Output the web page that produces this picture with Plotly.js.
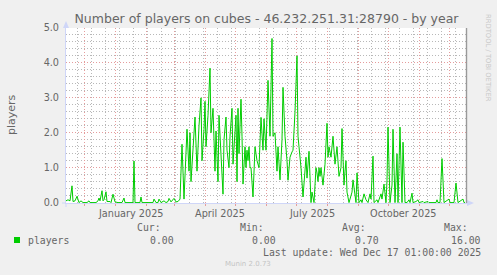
<!DOCTYPE html>
<html>
<head>
<meta charset="utf-8">
<script src="https://cdn.plot.ly/plotly-3.0.1.min.js"></script>
<style>
  html, body { margin: 0; padding: 0; background: #F0F0F0; }
  #chart { width: 497px; height: 275px; }
</style>
</head>
<body>
<div id="chart"></div>
<script>
// ---- data (days relative to 1 Jan 2025, daily average players) ----
const dayOffsets = [
  -49,-47,-45,-43,-42,-40,-38,-36,-34,-32,-28,-26,-25,-19,-17,-16,-15,-13,-12,-11,-9,-8,-5,-4,-2,
  0,3,7,9,10,18,19,20,25,26,27,38,39,41,43,44,46,49,51,53,54,56,59,61,63,65,
  67,69,71,72,74,75,76,78,80,82,84,86,87,89,90,91,93,95,96,98,99,100,101,103,104,105,106,107,108,109,
  111,112,114,115,117,118,120,121,122,123,124,125,126,127,128,130,131,132,133,134,135,136,138,140,142,144,
  146,148,149,151,153,155,157,158,160,162,163,165,167,168,170,172,173,175,176,177,178,180,182,183,184,186,
  188,189,191,192,194,196,197,199,201,202,203,204,205,206,208,210,212,213,214,216,217,218,220,222,224,226,
  227,229,230,231,232,234,235,237,238,240,241,242,244,246,247,249,251,253,255,256,258,259,262,263,264,266,
  267,269,271,272,273,275,277,278,280,282,283,285,287,288,290,292,294,295,297,298,301,303,304,308,309,313,
  314,321,322,323,325,327,329,334,335,339,341,343,348,349,350
];
const players = [
  0.05,0.08,0.05,0.48,0.03,0.05,0.18,0,0.05,0,0,0.05,0,0,0.05,0.13,0.05,0.34,0.05,0.08,0.31,0.03,0.03,0,0.24,
  0.02,0,0,0.13,0,0,1.19,0,0,0.16,0,0,0.1,0,0,0.1,0,0.05,0,0.03,0.12,0.02,0.12,0.02,0.03,0.1,
  1.67,0.1,1.3,2.1,0.9,2.0,0.6,1.7,2.45,0.9,2.2,3.0,1.2,2.1,2.9,1.6,2.5,3.85,2.0,2.7,1.6,0.9,2.05,0.6,2.5,1.9,1.4,0.8,0.24,1.8,
  2.45,1.5,1.0,1.9,2.7,1.1,2.3,2.5,0.6,2.7,1.4,2.2,2.96,1.9,0.53,1.6,1.0,1.5,1.2,1.6,1.0,1.0,0.16,1.6,1.2,1.0,
  2.44,1.5,2.4,1.5,3.5,1.9,4.7,1.9,2.0,0.9,1.6,0.65,1.8,3.3,1.9,1.2,0.64,1.3,1.4,1.45,1.5,2.6,4.2,1.9,1.6,1.0,
  0.16,0.5,1.3,0.7,1.47,0,0.3,0,1.0,0.85,0.6,1.0,0.75,1.0,0.5,1.1,2.27,1.3,1.6,1.3,1.7,1.9,1.1,1.6,0.75,1.0,
  2.12,0.5,0.9,1.2,0.3,0,0.1,0.3,0.65,0.1,0,0.85,0,0.08,0,0.25,0.08,0,0.25,0.1,1.33,0,0.08,0,0.08,0.25,
  0.1,0.53,0,0.64,2.16,0,0.5,2.1,0,1.4,0,2.16,0,1.73,0,0,0.08,0,0.27,0,0.03,0.08,0,0.03,0,0.03,
  0,0,0.08,0,0,1.26,0,0.1,0,0,0.56,0,0.1,0,0
];
const quarterLabels = ['January 2025', 'April 2025', 'July 2025', 'October 2025'];
const quarterMidDates = ['2025-01-16 12:00', '2025-04-16', '2025-07-16 12:00', '2025-10-16 12:00'];
const statNames = ['Cur:', 'Min:', 'Avg:', 'Max:'];
const statValues = ['0.00', '0.00', '0.70', '16.00'];
const seriesName = 'players';
const titleText = 'Number of players on cubes - 46.232.251.31:28790 - by year';
const lastUpdate = 'Last update: Wed Dec 17 01:00:00 2025';

// ---- helpers ----
const DAY = 86400000;
const base = Date.UTC(2025, 0, 1);
function dayToDate(d) {
  return new Date(base + d * DAY).toISOString().replace('T', ' ').slice(0, 19);
}
const L = 66, R = 467, T = 28, B = 203, W = 497, H = 275;
const px = x => (x - L) / (R - L);
const py = y => (B - y) / (B - T);

const FONT = 'DejaVu Sans, sans-serif';
const MONO = 'DejaVu Sans Mono, monospace';
const FC = '#666666';
const AXC = '#CFD6F8';
const MGRID = '#E59C9C';
const GRID = '#B8B8B8';
const DOTS = '1px,2px';

const xs = dayOffsets.map(dayToDate);

const trace = {
  type: 'scatter', mode: 'lines', x: xs, y: players, name: seriesName,
  line: { color: '#00CC00', width: 1 }, hoverinfo: 'skip'
};

const annotations = [];
quarterLabels.forEach((t, i) => {
  annotations.push({ text: t, x: quarterMidDates[i], xref: 'x', y: py(213), yref: 'paper',
    xanchor: 'center', yanchor: 'middle', showarrow: false, font: { family: FONT, size: 9.7, color: FC } });
});
annotations.push({ text: 'players', x: px(11), y: py(115), xref: 'paper', yref: 'paper', textangle: -90,
  showarrow: false, xanchor: 'center', yanchor: 'middle', font: { family: FONT, size: 11, color: FC } });
annotations.push({ text: 'RRDTOOL / TOBI OETIKER', x: px(488), y: py(58), xref: 'paper', yref: 'paper', textangle: 90,
  showarrow: false, xanchor: 'center', yanchor: 'middle', font: { family: FONT, size: 6.8, color: '#C8C8C8' } });
// legend
const nameRight = [163, 266, 368, 470];
const valRight = [176, 278, 381, 483];
statNames.forEach((n, i) => {
  annotations.push({ text: n, x: px(nameRight[i]), y: py(227), xref: 'paper', yref: 'paper', xanchor: 'right', yanchor: 'middle',
    showarrow: false, font: { family: MONO, size: 9.8, color: FC } });
  annotations.push({ text: statValues[i], x: px(valRight[i]), y: py(240), xref: 'paper', yref: 'paper', xanchor: 'right', yanchor: 'middle',
    showarrow: false, font: { family: MONO, size: 9.8, color: FC } });
});
annotations.push({ text: seriesName, x: px(26), y: py(240), xref: 'paper', yref: 'paper', xanchor: 'left', yanchor: 'middle',
  showarrow: false, font: { family: MONO, size: 9.8, color: FC } });
annotations.push({ text: lastUpdate, x: px(483), y: py(252), xref: 'paper', yref: 'paper', xanchor: 'right', yanchor: 'middle',
  showarrow: false, font: { family: MONO, size: 9.8, color: FC } });
annotations.push({ text: 'Munin 2.0.73', x: px(248), y: py(264), xref: 'paper', yref: 'paper', xanchor: 'center', yanchor: 'middle',
  showarrow: false, font: { family: FONT, size: 7, color: '#C4C4C4' } });

const shapes = [
  // axis arrows
  { type: 'path', xref: 'paper', yref: 'paper', path: `M ${px(66)} ${py(21)} L ${px(63)} ${py(28)} L ${px(69)} ${py(28)} Z`,
    fillcolor: AXC, line: { width: 0 } },
  { type: 'path', xref: 'paper', yref: 'paper', path: `M ${px(474)} ${py(203)} L ${px(467)} ${py(200)} L ${px(467)} ${py(206)} Z`,
    fillcolor: AXC, line: { width: 0 } },
  { type: 'line', xref: 'paper', yref: 'paper', x0: px(66), x1: px(66), y0: py(203), y1: py(207), line: { color: AXC, width: 1 } },
  { type: 'line', xref: 'paper', yref: 'paper', x0: px(62), x1: px(66), y0: py(203), y1: py(203), line: { color: AXC, width: 1 } },
  // right frame line
  { type: 'line', xref: 'paper', yref: 'paper', x0: px(466.5), x1: px(466.5), y0: py(28), y1: py(203), line: { color: '#999999', width: 1.4 } },
  // legend swatch
  { type: 'rect', xref: 'paper', yref: 'paper', x0: px(14), x1: px(20), y0: py(243), y1: py(237), fillcolor: '#00CC00', line: { width: 0 } }
];

const layout = {
  width: W, height: H,
  margin: { l: L, r: W - R, t: T, b: H - B, pad: 0, autoexpand: false },
  paper_bgcolor: '#F0F0F0', plot_bgcolor: '#FFFFFF',
  showlegend: false, hovermode: false,
  title: { text: titleText, x: 0.5, xref: 'paper', xanchor: 'center', y: 1 - 19 / H, yref: 'container', yanchor: 'middle',
    font: { family: FONT, size: 12.5, color: FC } },
  xaxis: {
    type: 'date', range: [dayToDate(-49), dayToDate(352)], fixedrange: true,
    dtick: 'M1', tick0: '2024-12-01', showticklabels: false,
    ticks: 'outside', ticklen: 2, tickcolor: MGRID, tickwidth: 1,
    showgrid: true, gridcolor: MGRID, griddash: DOTS, gridwidth: 1,
    minor: { dtick: 14 * DAY, tick0: '2024-11-24', showgrid: true, gridcolor: GRID, griddash: DOTS, gridwidth: 1, ticks: '' },
    showline: true, linecolor: AXC, linewidth: 1, layer: 'below traces', zeroline: false
  },
  yaxis: {
    range: [-0.012, 5], fixedrange: true, dtick: 1, tick0: 0, tickformat: '.1f',
    tickfont: { family: FONT, size: 9.7, color: FC }, ticks: '', ticklabelstandoff: 4,
    showgrid: true, gridcolor: MGRID, griddash: DOTS, gridwidth: 1,
    minor: { dtick: 0.2, showgrid: true, gridcolor: GRID, griddash: DOTS, gridwidth: 1 },
    showline: true, linecolor: AXC, linewidth: 1, layer: 'below traces', zeroline: false
  },
  annotations, shapes
};

Plotly.newPlot('chart', [trace], layout, { staticPlot: true, displayModeBar: false });
</script>
</body>
</html>
